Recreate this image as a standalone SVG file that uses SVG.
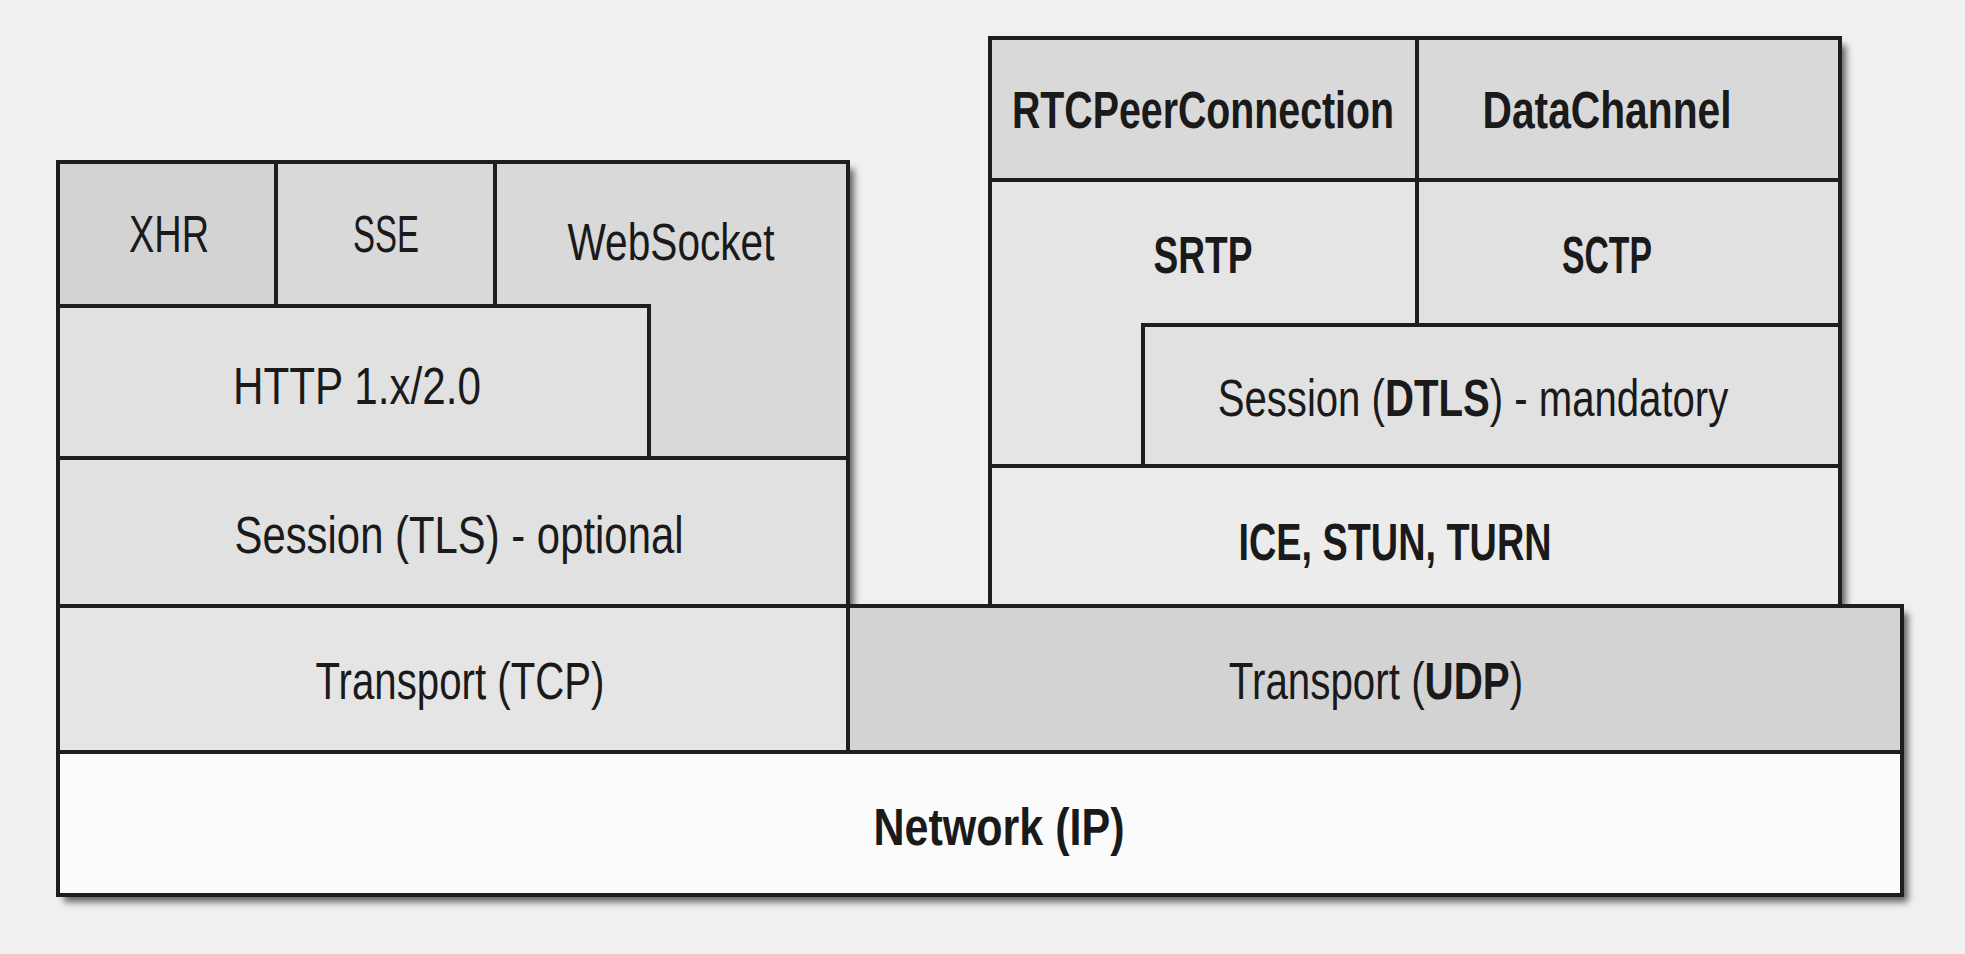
<svg xmlns="http://www.w3.org/2000/svg" width="1965" height="954" viewBox="0 0 1965 954">
<defs>
<filter id="sh" x="-5%" y="-5%" width="115%" height="120%">
<feDropShadow dx="6" dy="7" stdDeviation="3.5" flood-color="#000" flood-opacity="0.6"/>
</filter>
<style>
.b{stroke:#1e1e1e;stroke-width:4;stroke-linejoin:miter}
.t{font-family:"Liberation Sans Narrow","Liberation Sans",Arial,sans-serif;font-size:51px;fill:#1a1a1a;text-anchor:middle}
.s{font-weight:bold}
.d1{fill:#d3d3d3}.d2{fill:#d9d9d9}.l1{fill:#e1e1e1}.l2{fill:#e5e5e5}.l3{fill:#ececec}.w{fill:#fbfbfb}
</style>
</defs>
<rect width="1965" height="954" fill="#f0f0f0"/>
<g id="shadows" filter="url(#sh)" fill="#888">
<rect x="58" y="162" width="790" height="444"/>
<rect x="990" y="38" width="850" height="568"/>
<rect x="58" y="606" width="1844" height="289"/>
</g>
<g id="connectors"/>
<g id="websocket"><rect class="b d2" x="495" y="162" width="353" height="296"/><text class="t" x="671" y="260" textLength="207" lengthAdjust="spacingAndGlyphs">WebSocket</text></g>
<g id="xhr"><rect class="b d1" x="58" y="162" width="218" height="144"/><text class="t" x="169" y="252" textLength="80" lengthAdjust="spacingAndGlyphs">XHR</text></g>
<g id="sse"><rect class="b d2" x="276" y="162" width="219" height="144"/><text class="t" x="386" y="252" textLength="66" lengthAdjust="spacingAndGlyphs">SSE</text></g>
<g id="http"><rect class="b l1" x="58" y="306" width="591" height="152"/><text class="t" x="357" y="404" textLength="248" lengthAdjust="spacingAndGlyphs">HTTP 1.x/2.0</text></g>
<g id="tls"><rect class="b l1" x="58" y="458" width="790" height="148"/><text class="t" x="459" y="553" textLength="449" lengthAdjust="spacingAndGlyphs">Session (TLS) - optional</text></g>
<g id="tcp"><rect class="b l2" x="58" y="606" width="790" height="146"/><text class="t" x="460" y="699" textLength="289" lengthAdjust="spacingAndGlyphs">Transport (TCP)</text></g>
<g id="udp"><rect class="b d1" x="848" y="606" width="1054" height="146"/>
<text class="t" transform="translate(1376 699) scale(0.791 1)" x="0" y="0">Transport (<tspan class="s">UDP</tspan>)</text></g>
<g id="network"><rect class="b w" x="58" y="752" width="1844" height="143"/><text class="t s" x="999" y="845" textLength="251" lengthAdjust="spacingAndGlyphs">Network (IP)</text></g>
<g id="rtcpeerconnection"><rect class="b d2" x="990" y="38" width="427" height="142"/><text class="t s" x="1203" y="128" textLength="382" lengthAdjust="spacingAndGlyphs">RTCPeerConnection</text></g>
<g id="datachannel"><rect class="b d2" x="1417" y="38" width="423" height="142"/><text class="t s" x="1607" y="128" textLength="249" lengthAdjust="spacingAndGlyphs">DataChannel</text></g>
<g id="srtp"><rect class="b l2" x="990" y="180" width="427" height="286"/><text class="t s" x="1203" y="273" textLength="99" lengthAdjust="spacingAndGlyphs">SRTP</text></g>
<g id="sctp"><rect class="b l1" x="1417" y="180" width="423" height="145"/><text class="t s" x="1607" y="273" textLength="90" lengthAdjust="spacingAndGlyphs">SCTP</text></g>
<g id="dtls"><rect class="b l1" x="1143" y="325" width="697" height="141"/>
<text class="t" transform="translate(1473 416) scale(0.787 1)" x="0" y="0">Session (<tspan class="s">DTLS</tspan>) - mandatory</text></g>
<g id="ice"><rect class="b l3" x="990" y="466" width="850" height="140"/><text class="t s" x="1395" y="560" textLength="313" lengthAdjust="spacingAndGlyphs">ICE, STUN, TURN</text></g>
</svg>
